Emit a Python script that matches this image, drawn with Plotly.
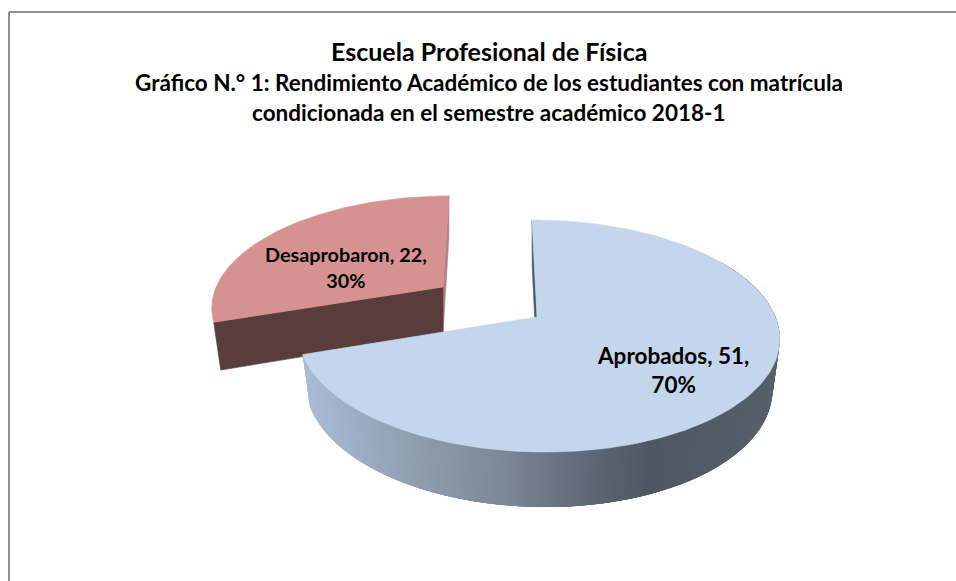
import numpy as np
import plotly.graph_objects as go

# --- chart data ---
categories = ["Aprobados", "Desaprobaron"]
values = [51, 22]
title_lines = [
    "Escuela Profesional de Física",
    "Gráfico N.° 1: Rendimiento Académico de los estudiantes con matrícula",
    "condicionada en el semestre académico 2018-1",
]

# --- style ---
FONT = "Lato, Carlito, Calibri, sans-serif"
BLUE_TOP = "#c3d6ec"
BLUE_INNER = "#4f5a66"
RED_TOP = "#d69291"
RED_CUT = "#593c3c"
RED_INNER = "#b58080"
FRAME = "#8e8e8e"
side_stops_x = [303, 400, 500, 600, 650, 780]
side_stops_rgb = [(170, 188, 213), (146, 161, 180), (124, 137, 154), (92, 100, 114), (79, 87, 97), (86, 96, 106)]

# perspective model of the tilted pie (page pixels)
K, M, N, DEPTH = 0.164, 0.005, 0.03, 51.7
BLUE = dict(x0=537, y0=317, a=237.3, b=112.9, s=5.8, d=DEPTH)
RED = dict(x0=443, y0=287, a=228.0, b=106.0, s=-7.0, d=48.0)


def project(p, u, v, z):
    w = 1 - K * v - M * u + N * z
    return p["x0"] + (p["a"] * u + p["s"] * v) / w, p["y0"] + (p["b"] * v + p["d"] * z) / w


def rim(p, t, z):
    t = np.asarray(t, dtype=float)
    return project(p, np.sin(2 * np.pi * t), -np.cos(2 * np.pi * t), z)


def side_colour(x):
    c = [np.interp(x, side_stops_x, [s[i] for s in side_stops_rgb]) for i in range(3)]
    return "rgb(%d,%d,%d)" % tuple(int(round(v)) for v in c)


fig = go.Figure()


def poly(xs, ys, colour, width=0.6):
    fig.add_trace(go.Scatter(
        x=list(xs), y=list(ys), mode="lines", fill="toself", fillcolor=colour,
        line=dict(color=colour, width=width), hoverinfo="skip", showlegend=False,
    ))


total = sum(values)
frac = [v / total for v in values]
split = frac[0]

# red slice (exploded, behind)
ax, ay = project(RED, 0, 0, 0)
bx, by = project(RED, 0, 0, 1)
tx, ty = rim(RED, 1.0, 0)
tbx, tby = rim(RED, 1.0, 1)
lx, ly = rim(RED, split, 0)
lbx, lby = rim(RED, split, 1)
poly([tx, tbx, bx, ax, tx], [ty, tby, by, ay, ty], RED_INNER)
poly([ax, lx, lbx, bx, ax], [ay, ly, lby, by, ay], RED_CUT)
ts = np.linspace(split, 1.0, 80)
rx, ry = rim(RED, ts, 0)
poly([ax, *rx, ax], [ay, *ry, ay], RED_TOP)

# blue slice: inner cut face
ax, ay = project(BLUE, 0, 0, 0)
bx, by = project(BLUE, 0, 0, 1)
tx, ty = rim(BLUE, 0.0, 0)
tbx, tby = rim(BLUE, 0.0, 1)
poly([tx, tbx, bx, ax, tx], [ty, tby, by, ay, ty], BLUE_INNER)

# blue slice: outer wall; strips overlap the next one so that no seams show
edges = np.linspace(0.16, split, 200)
step = edges[1] - edges[0]
for t0 in edges[:-1]:
    t1 = min(t0 + 4 * step, split)
    tt = np.linspace(t0, t1, 6)
    xa, ya = rim(BLUE, tt, 0)
    xb, yb = rim(BLUE, tt, 1)
    xm, _ = rim(BLUE, t0 + step / 2, 0)
    poly([*xa, *xb[::-1], xa[0]], [*ya, *yb[::-1], ya[0]], side_colour(xm), width=0)

# blue slice: top
ts = np.linspace(0, split, 200)
rx, ry = rim(BLUE, ts, 0)
poly([ax, *rx, ax], [ay, *ry, ay], BLUE_TOP)

# texts
annotations = []
title_y = [51, 82, 112]
title_x = [489, 489, 489]
title_size = [25, 22.5, 22.5]
for text, x, y, size in zip(title_lines, title_x, title_y, title_size):
    annotations.append(dict(x=x, y=y, text="<b>%s</b>" % text, showarrow=False, xref="x", yref="y",
                            font=dict(family=FONT, size=size, color="#000000"),
                            xanchor="center", yanchor="middle"))

label_x = [673, 346]
label_y = [370, 267]
label_size = [22.5, 19.8]
for cat, val, f, x, y, size in zip(categories, values, frac, label_x, label_y, label_size):
    annotations.append(dict(x=x, y=y, text="<b>%s, %d,<br>%d%%</b>" % (cat, val, round(f * 100)),
                            showarrow=False, xref="x", yref="y", align="center",
                            font=dict(family=FONT, size=size, color="#000000"),
                            xanchor="center", yanchor="middle"))

fig.update_layout(
    width=956, height=581, margin=dict(l=0, r=0, t=0, b=0), autosize=False,
    paper_bgcolor="#ffffff", plot_bgcolor="#ffffff", showlegend=False,
    xaxis=dict(range=[0, 956], visible=False, fixedrange=True),
    yaxis=dict(range=[581, 0], visible=False, fixedrange=True),
    annotations=annotations,
    shapes=[
        dict(type="line", x0=9, x1=956, y0=12, y1=12, xref="x", yref="y", line=dict(color=FRAME, width=2)),
        dict(type="line", x0=9, x1=9, y0=12, y1=581, xref="x", yref="y", line=dict(color=FRAME, width=2)),
    ],
)

fig.write_html(
    "out.html",
    config={"displayModeBar": False},
    post_script="document.body.style.margin='0';document.body.style.overflow='hidden';",
)
